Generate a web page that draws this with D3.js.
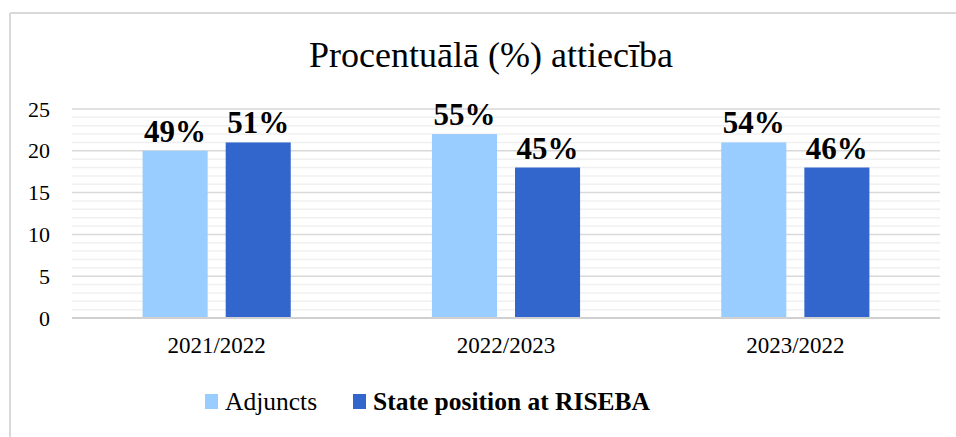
<!DOCTYPE html>
<html>
<head>
<meta charset="utf-8">
<script src="https://cdn.jsdelivr.net/npm/d3@7"></script>
<style>
  body { margin: 0; background: #fff; }
  svg { display: block; }
  svg text { font-family: "Liberation Serif", "Times New Roman", serif; }
</style>
</head>
<body>
<svg width="956" height="437"></svg>
<script>
var categories = ["2021/2022", "2022/2023", "2023/2022"];
var seriesNames = ["Adjuncts", "State position at RISEBA"];
var adjuncts = [20, 22, 21];
var statePosition = [21, 18, 18];
var adjunctsLabels = ["49%", "55%", "54%"];
var stateLabels = ["51%", "45%", "46%"];
var yTicks = [0, 5, 10, 15, 20, 25];
var colors = ["#99ccff", "#3366cc"];

var svg = d3.select("svg");
var plotLeft = 72, plotRight = 940, plotTop = 109, plotBottom = 318;

// chart frame (only left and top edges are visible)
svg.append("line").attr("x1", 10).attr("x2", 10).attr("y1", 13).attr("y2", 437)
    .attr("stroke", "#d9d9d9").attr("stroke-width", 2);
svg.append("line").attr("x1", 10).attr("x2", 956).attr("y1", 13).attr("y2", 13)
    .attr("stroke", "#d9d9d9").attr("stroke-width", 2);

var y = d3.scaleLinear().domain([0, 25]).range([plotBottom, plotTop]);
var x0 = d3.scaleBand().domain(categories).range([plotLeft, plotRight])
    .paddingInner(0.488).paddingOuter(0.244);
var x1 = d3.scaleBand().domain(seriesNames).range([0, x0.bandwidth()])
    .paddingInner(0.217);

// minor gridlines
var minor = d3.range(1, 25).filter(function (v) { return v % 5 !== 0; });
svg.append("g").selectAll("line").data(minor).enter().append("line")
    .attr("x1", plotLeft).attr("x2", plotRight)
    .attr("y1", function (d) { return y(d); }).attr("y2", function (d) { return y(d); })
    .attr("stroke", "#f0f0f0").attr("stroke-width", 1.5);

// major gridlines
svg.append("g").selectAll("line").data(yTicks.slice(1)).enter().append("line")
    .attr("x1", plotLeft).attr("x2", plotRight)
    .attr("y1", function (d) { return y(d); }).attr("y2", function (d) { return y(d); })
    .attr("stroke", "#d9d9d9").attr("stroke-width", 1.5);

// y axis labels
var yAxis = d3.axisLeft(y).tickValues(yTicks).tickSize(0).tickPadding(22);
var gy = svg.append("g").attr("transform", "translate(" + plotLeft + ",0)").call(yAxis);
gy.select(".domain").remove();
gy.selectAll("text").attr("font-size", 22).attr("fill", "#000");

// bars
var rows = categories.map(function (c, i) {
    return [
        { cat: c, s: seriesNames[0], v: adjuncts[i], label: adjunctsLabels[i], color: colors[0] },
        { cat: c, s: seriesNames[1], v: statePosition[i], label: stateLabels[i], color: colors[1] }
    ];
});

var groups = svg.append("g").selectAll("g").data(rows).enter().append("g")
    .attr("transform", function (d, i) { return "translate(" + x0(categories[i]) + ",0)"; });

groups.selectAll("rect").data(function (d) { return d; }).enter().append("rect")
    .attr("x", function (d) { return x1(d.s); })
    .attr("y", function (d) { return y(d.v); })
    .attr("width", x1.bandwidth())
    .attr("height", function (d) { return y(0) - y(d.v); })
    .attr("fill", function (d) { return d.color; });

groups.selectAll("text").data(function (d) { return d; }).enter().append("text")
    .attr("x", function (d) { return x1(d.s) + x1.bandwidth() / 2; })
    .attr("y", function (d) { return y(d.v) - 9; })
    .attr("text-anchor", "middle")
    .attr("font-size", 31).attr("font-weight", "bold")
    .text(function (d) { return d.label; });

// baseline
svg.append("line").attr("x1", plotLeft).attr("x2", plotRight).attr("y1", y(0)).attr("y2", y(0))
    .attr("stroke", "#d0d0d0").attr("stroke-width", 2);

// x axis labels
var xAxis = d3.axisBottom(x0).tickSize(0).tickPadding(19);
var gx = svg.append("g").attr("transform", "translate(0," + plotBottom + ")").call(xAxis);
gx.select(".domain").remove();
gx.selectAll("text").attr("font-size", 23).attr("fill", "#000");

// title
svg.append("text").attr("x", 491).attr("y", 67).attr("text-anchor", "middle")
    .attr("font-size", 36).text("Procentuālā (%) attiecība");

// legend
var legendX = [205, 353];
var legend = svg.append("g").selectAll("g").data(seriesNames).enter().append("g")
    .attr("transform", function (d, i) { return "translate(" + legendX[i] + ",394)"; });
legend.append("rect").attr("width", 13).attr("height", 15)
    .attr("fill", function (d, i) { return colors[i]; });
legend.append("text").attr("x", 20).attr("y", 16)
    .attr("font-size", 25.5)
    .attr("font-weight", function (d, i) { return i === 1 ? "bold" : "normal"; })
    .text(function (d) { return d; });
</script>
</body>
</html>
